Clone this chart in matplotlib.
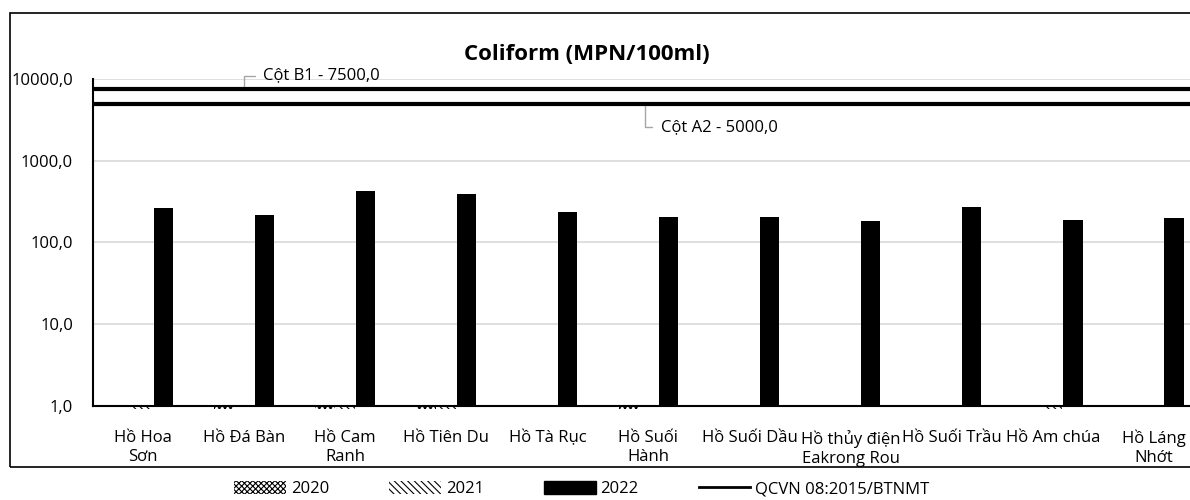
import numpy as np
import matplotlib
matplotlib.use("Agg")
import matplotlib.pyplot as plt
from matplotlib.patches import Patch, Rectangle
from matplotlib.lines import Line2D
from matplotlib.ticker import FixedLocator, FuncFormatter

plt.rcParams['font.family'] = ['Open Sans', 'DejaVu Sans']
plt.rcParams['hatch.linewidth'] = 0.8

lakes = ["Hồ Hoa\nSơn", "Hồ Đá Bàn", "Hồ Cam\nRanh", "Hồ Tiên Du", "Hồ Tà Rục",
         "Hồ Suối\nHành", "Hồ Suối Dầu", "Hồ thủy điện\nEakrong Rou", "Hồ Suối Trầu",
         "Hồ Am chúa", "Hồ Láng\nNhớt"]
nan = np.nan
v2020 = [nan, 0.93, 0.93, 0.93, nan, 0.93, nan, nan, nan, nan, nan]
v2021 = [0.93, nan, 0.93, 0.93, nan, nan, nan, nan, nan, 0.93, nan]
v2022 = [266, 218, 425, 394, 237, 206, 204, 184, 273, 191, 200]
limit_b1 = 7500.0
limit_a2 = 5000.0
yticks = [1, 10, 100, 1000, 10000]

fig = plt.figure(figsize=(11.9, 5.0), dpi=100)
ax = fig.add_axes([92.5/1190, 94/500, (1204.3-92.5)/1190, 327/500])
ax.set_yscale('log')
ax.set_ylim(1, 10000)
ax.set_xlim(-0.5, len(lakes) - 0.5)

x = np.arange(len(lakes))
w = 0.19
off = 0.2
ax.bar(x - off, np.array(v2020) - 1, w, bottom=1, facecolor='white', edgecolor='black',
       hatch='xxxxxx', lw=0, clip_on=False, zorder=2)
ax.bar(x, np.array(v2021) - 1, w, bottom=1, facecolor='white', edgecolor='black',
       hatch='\\\\\\\\\\', lw=0, clip_on=False, zorder=2)
ax.bar(x + off, np.array(v2022) - 1, w, bottom=1, color='black', zorder=3)

ax.axhline(limit_b1, color='black', lw=3, zorder=4)
ax.axhline(limit_a2, color='black', lw=3, zorder=4)

fmt = lambda v: f"{v:.1f}".replace('.', ',')
ax.annotate(f"Cột B1 - {fmt(limit_b1)}", xy=(1.0, limit_b1), xytext=(1.19, 11000),
            ha='left', va='center', fontsize=12,
            arrowprops=dict(arrowstyle='-', color='#a6a6a6', lw=1,
                            connectionstyle='angle,angleA=0,angleB=90,rad=0',
                            relpos=(0, 0.5), shrinkA=4, shrinkB=2))
ax.annotate(f"Cột A2 - {fmt(limit_a2)}", xy=(4.97, limit_a2), xytext=(5.12, 2600),
            ha='left', va='center', fontsize=12,
            arrowprops=dict(arrowstyle='-', color='#a6a6a6', lw=1,
                            connectionstyle='angle,angleA=0,angleB=90,rad=0',
                            relpos=(0, 0.5), shrinkA=4, shrinkB=2))

ax.yaxis.set_major_locator(FixedLocator(yticks))
ax.yaxis.set_minor_locator(FixedLocator([]))
ax.yaxis.set_major_formatter(FuncFormatter(lambda v, p: fmt(v)))
ax.grid(axis='y', color='#d9d9d9', lw=1.2, zorder=0)
ax.set_axisbelow(True)
ax.tick_params(axis='y', length=0, labelsize=12, pad=14)
ax.set_xticks(x)
ax.set_xticklabels(lakes, fontsize=12, linespacing=1.25)
ax.tick_params(axis='x', length=0, pad=17)
for s in ['top', 'right']:
    ax.spines[s].set_visible(False)
for s in ['left', 'bottom']:
    ax.spines[s].set_linewidth(1.5)
    ax.spines[s].set_zorder(5)

fig.text(0.493, 0.892, "Coliform (MPN/100ml)", ha='center', va='center',
         fontsize=16, fontweight='bold')

fig.add_artist(Rectangle((10/1190, 33/500), 1.0, 454/500, transform=fig.transFigure,
                         fill=False, edgecolor='black', lw=1.2))

handles = [
    Patch(facecolor='white', edgecolor='black', hatch='xxxxxx', lw=0, label='2020'),
    Patch(facecolor='white', edgecolor='black', hatch='\\\\\\\\\\', lw=0, label='2021'),
    Patch(facecolor='black', edgecolor='black', label='2022'),
    Line2D([], [], color='black', lw=2, label='QCVN 08:2015/BTNMT'),
]
fig.legend(handles=handles, loc='center', bbox_to_anchor=(0.489, 0.022), ncol=4,
           frameon=False, fontsize=12, handlelength=3.1, handleheight=0.8,
           handletextpad=0.3, columnspacing=3.6)

fig.savefig('out.png', dpi=100)
